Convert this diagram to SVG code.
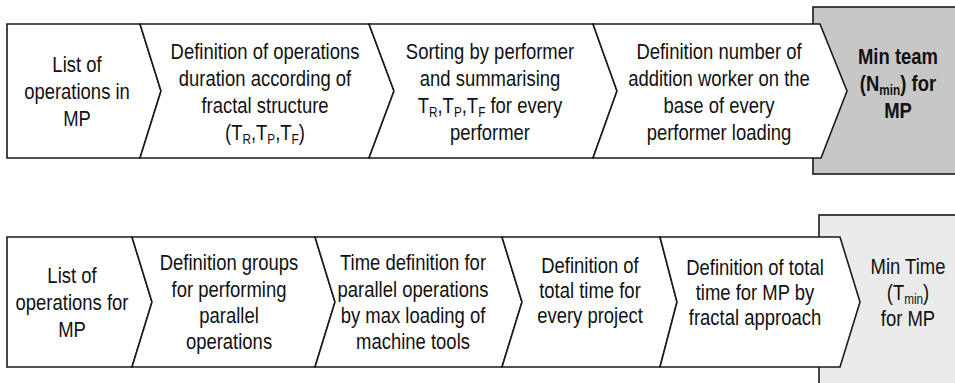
<svg xmlns="http://www.w3.org/2000/svg" width="955" height="383" viewBox="0 0 955 383">
  <style>
    .step { fill: #ffffff; stroke: #1a1a1a; stroke-width: 1.6; stroke-linejoin: miter; }
    .goal-a { fill: #c7c7c7; stroke: #1a1a1a; stroke-width: 1.6; }
    .goal-b { fill: #ebebeb; stroke: #1a1a1a; stroke-width: 1.6; }
    .lbl { font-family: "Liberation Sans", Arial, sans-serif; font-size: 22px; fill: #111111; text-anchor: middle; }
    .bold { font-weight: bold; }
    .sub { font-size: 14px; }
  </style>

  <!-- Row 1: minimum team -->
  <g id="goal-team">
    <rect class="goal-a" x="813" y="7" width="150" height="167"/>
    <g class="lbl bold" transform="translate(898 0) scale(0.84 1)">
      <text x="0" y="64">Min team</text>
      <text x="0" y="91">(N<tspan class="sub" dy="4">min</tspan><tspan dy="-4">) for</tspan></text>
      <text x="0" y="118">MP</text>
    </g>
  </g>

  <g id="r1-list">
    <polygon class="step" points="7,24 140,24 161,91 140,158 7,158"/>
    <g class="lbl" transform="translate(77 0) scale(0.84 1)">
      <text x="0" y="72">List of</text>
      <text x="0" y="99">operations in</text>
      <text x="0" y="126">MP</text>
    </g>
  </g>

  <g id="r1-duration">
    <polygon class="step" points="140,24 369,24 394,91 369,158 140,158 161,91"/>
    <g class="lbl" transform="translate(265 0) scale(0.84 1)">
      <text x="0" y="59">Definition of operations</text>
      <text x="0" y="86">duration according of</text>
      <text x="0" y="113">fractal structure</text>
      <text x="0" y="140">(T<tspan class="sub" dy="4">R</tspan><tspan dy="-4">,T</tspan><tspan class="sub" dy="4">P</tspan><tspan dy="-4">,T</tspan><tspan class="sub" dy="4">F</tspan><tspan dy="-4">)</tspan></text>
    </g>
  </g>

  <g id="r1-sorting">
    <polygon class="step" points="369,24 593,24 617,91 593,158 369,158 394,91"/>
    <g class="lbl" transform="translate(490 0) scale(0.84 1)">
      <text x="0" y="59">Sorting by performer</text>
      <text x="0" y="86">and summarising</text>
      <text x="0" y="113">T<tspan class="sub" dy="4">R</tspan><tspan dy="-4">,T</tspan><tspan class="sub" dy="4">P</tspan><tspan dy="-4">,T</tspan><tspan class="sub" dy="4">F</tspan><tspan dy="-4"> for every</tspan></text>
      <text x="0" y="140">performer</text>
    </g>
  </g>

  <g id="r1-workers">
    <polygon class="step" points="593,24 820,24 847,91 821,158 593,158 617,91"/>
    <g class="lbl" transform="translate(719 0) scale(0.84 1)">
      <text x="0" y="59">Definition number of</text>
      <text x="0" y="86">addition worker on the</text>
      <text x="0" y="113">base of every</text>
      <text x="0" y="140">performer loading</text>
    </g>
  </g>

  <!-- Row 2: minimum time -->
  <g id="goal-time">
    <rect class="goal-b" x="819" y="215" width="150" height="180"/>
    <g class="lbl" transform="translate(908 0) scale(0.84 1)">
      <text x="0" y="274">Min Time</text>
      <text x="0" y="300">(T<tspan class="sub" dy="4">min</tspan><tspan dy="-4">)</tspan></text>
      <text x="0" y="326">for MP</text>
    </g>
  </g>

  <g id="r2-list">
    <polygon class="step" points="7,237 132,237 152,302 132,367 7,367"/>
    <g class="lbl" transform="translate(72 0) scale(0.84 1)">
      <text x="0" y="283">List of</text>
      <text x="0" y="310">operations for</text>
      <text x="0" y="337">MP</text>
    </g>
  </g>

  <g id="r2-groups">
    <polygon class="step" points="132,237 315,237 335,302 315,367 132,367 152,302"/>
    <g class="lbl" transform="translate(229 0) scale(0.84 1)">
      <text x="0" y="270">Definition groups</text>
      <text x="0" y="297">for performing</text>
      <text x="0" y="323">parallel</text>
      <text x="0" y="349">operations</text>
    </g>
  </g>

  <g id="r2-parallel">
    <polygon class="step" points="315,237 502,237 522,302 502,367 315,367 335,302"/>
    <g class="lbl" transform="translate(413 0) scale(0.84 1)">
      <text x="0" y="270">Time definition for</text>
      <text x="0" y="297">parallel operations</text>
      <text x="0" y="323">by max loading of</text>
      <text x="0" y="349">machine tools</text>
    </g>
  </g>

  <g id="r2-project">
    <polygon class="step" points="502,237 660,237 677,302 660,367 502,367 522,302"/>
    <g class="lbl" transform="translate(590 0) scale(0.84 1)">
      <text x="0" y="273">Definition of</text>
      <text x="0" y="298">total time for</text>
      <text x="0" y="323">every project</text>
    </g>
  </g>

  <g id="r2-total">
    <polygon class="step" points="660,237 840,237 860,302 840,367 660,367 677,302"/>
    <g class="lbl" transform="translate(755 0) scale(0.84 1)">
      <text x="0" y="275">Definition of total</text>
      <text x="0" y="300">time for MP by</text>
      <text x="0" y="325">fractal approach</text>
    </g>
  </g>
</svg>
